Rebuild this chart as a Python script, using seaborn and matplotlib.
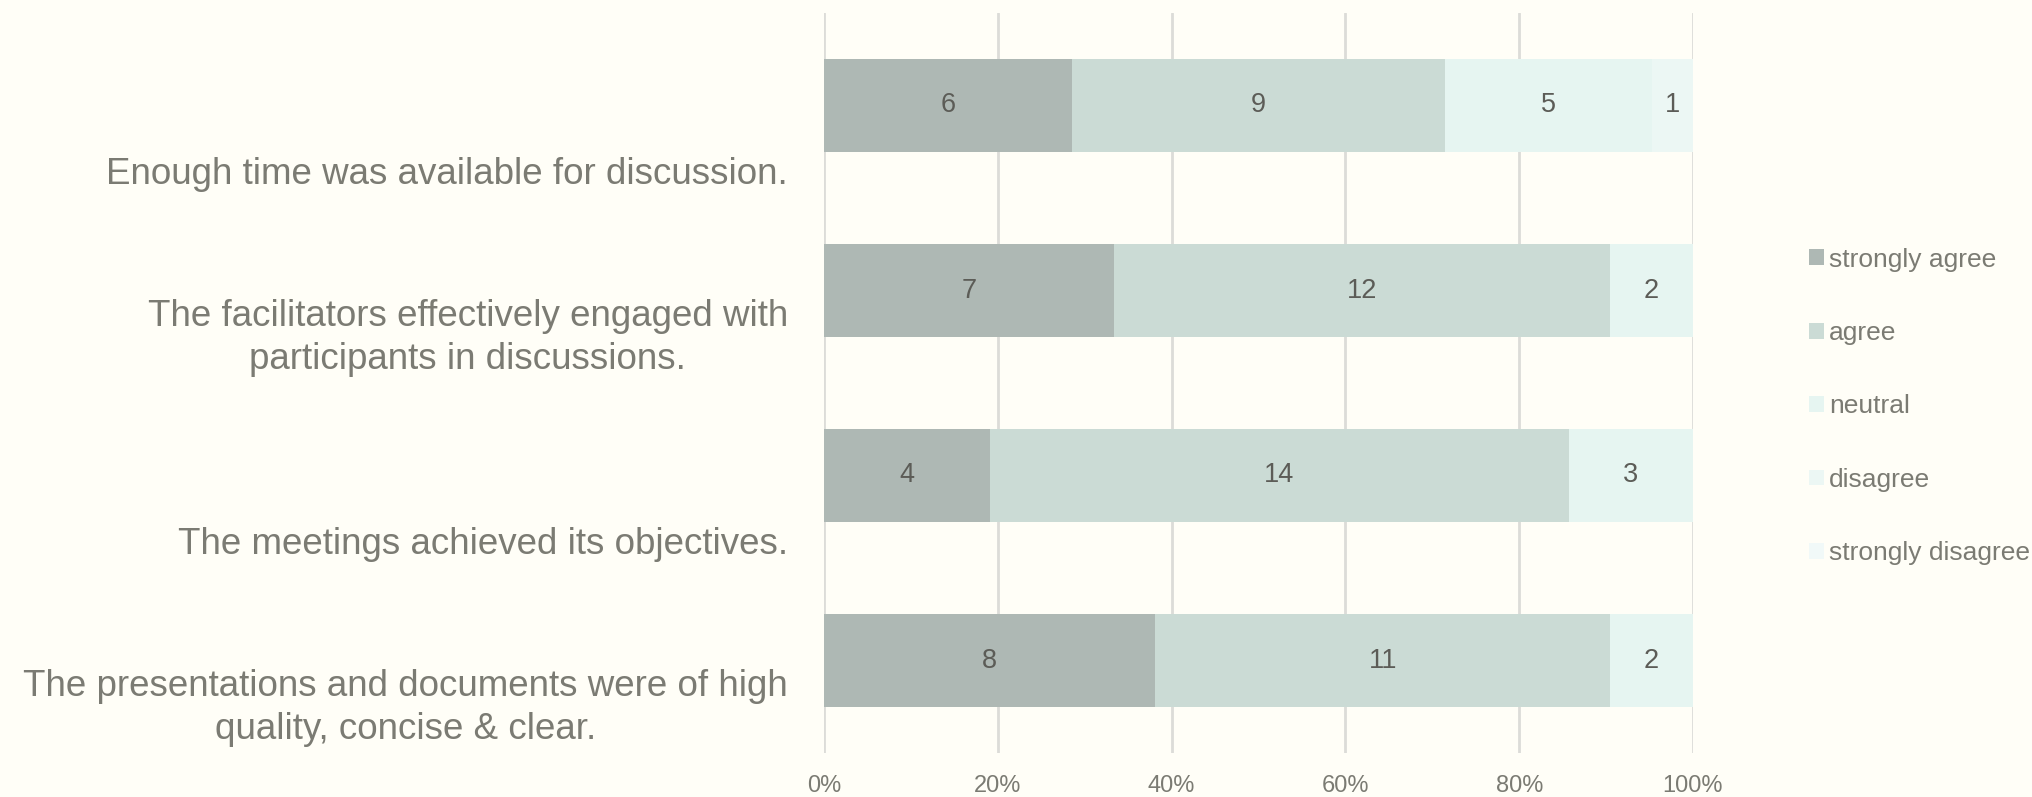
import pandas as pd
import seaborn as sns
import matplotlib.pyplot as plt
from matplotlib.patches import Patch


questions = ["Enough time was available for discussion.",
             "The facilitators effectively engaged with\nparticipants in discussions.",
             "The meetings achieved its objectives.",
             "The presentations and documents were of high\nquality, concise & clear."]
levels = ['strongly agree', 'agree', 'neutral', 'disagree', 'strongly disagree']
strongly_agree = [6, 7, 4, 8]
agree = [9, 12, 14, 11]
neutral = [5, 2, 3, 2]
disagree = [1, 0, 0, 0]
strongly_disagree = [0, 0, 0, 0]
xtick_labels = ['0%', '20%', '40%', '60%', '80%', '100%']

colors = ['#aeb8b4', '#cbdbd5', '#e6f5f1', '#ecf7f4', '#f1f9f8']
bg = '#fffef7'
txt = '#7b7b73'

df = pd.DataFrame({'question': questions, 'strongly agree': strongly_agree, 'agree': agree,
                   'neutral': neutral, 'disagree': disagree, 'strongly disagree': strongly_disagree})
total = df[levels].sum(axis=1)
share = df[levels].div(total, axis=0)
cum = share.cumsum(axis=1)

sns.set_theme(style='white')
plt.rcParams['font.family'] = ['Liberation Sans', 'DejaVu Sans']

fig = plt.figure(figsize=(20.32, 7.97), dpi=100, facecolor=bg)
ax = fig.add_axes([824 / 2032, 1 - 753 / 797, (1693 - 824) / 2032, 740 / 797])
ax.set_facecolor(bg)

# draw cumulative bars back to front so each segment shows its own colour
for lvl, col in reversed(list(zip(levels, colors))):
    sns.barplot(x=cum[lvl], y=df['question'], color=col, width=0.5, saturation=1,
                orient='h', ax=ax, zorder=2, linewidth=0, edgecolor='none')

# segment labels
for i in range(len(df)):
    left = 0
    for lvl in levels:
        v = df.loc[i, lvl]
        w = share.loc[i, lvl]
        if v > 0:
            ax.text(left + w / 2, i, str(v), ha='center', va='center',
                    fontsize=19.5, color='#5c5c57', zorder=3)
        left += w

ax.set_xlim(0, 1)
ax.set_ylim(3.5, -0.5)
ax.set_xticks([0, 0.2, 0.4, 0.6, 0.8, 1.0])
ax.set_xticklabels(xtick_labels, fontsize=17, color=txt)
ax.set_yticks([i + 0.47 for i in range(len(df))])
ax.set_yticklabels(questions, fontsize=26.5, color=txt, va='bottom', multialignment='center',
                   linespacing=1.3)
ax.tick_params(axis='x', length=0, pad=16)
ax.tick_params(axis='y', length=0, pad=26)
ax.set_xlabel('')
ax.set_ylabel('')
ax.grid(axis='x', color='#dcdcd8', linewidth=2, zorder=0)
ax.grid(axis='y', visible=False)
for s in ax.spines.values():
    s.set_visible(False)

handles = [Patch(facecolor=c, edgecolor='none', label=l) for l, c in zip(levels, colors)]
fig.legend(handles=handles, loc='center left', bbox_to_anchor=(1809 / 2032, 0.49),
           frameon=False, fontsize=19, labelcolor=txt, handlelength=0.55, handleheight=0.55,
           handletextpad=0.2, labelspacing=1.87, borderpad=0, borderaxespad=0)

plt.savefig('out.png', dpi=100, facecolor=bg)
